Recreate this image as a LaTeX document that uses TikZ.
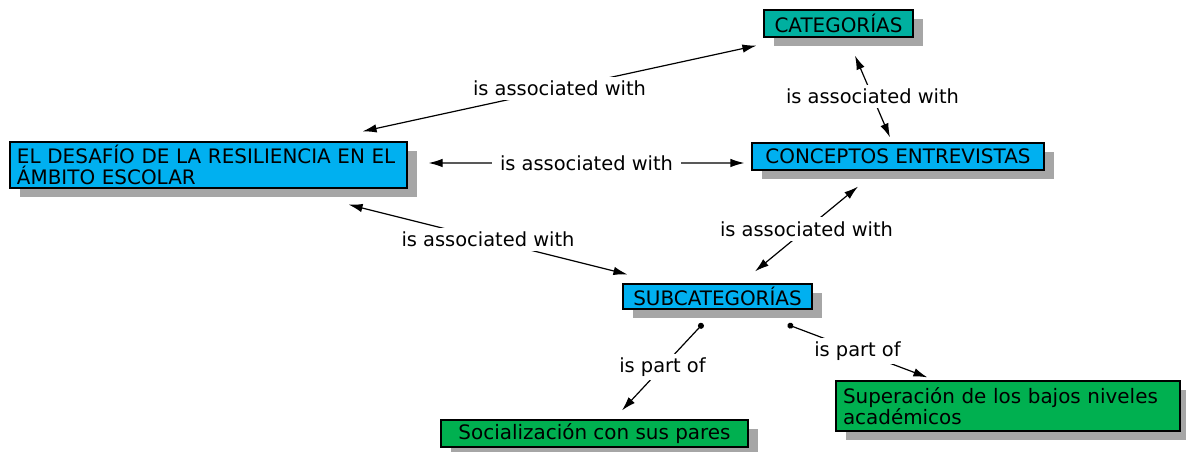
\documentclass[tikz,border=0pt]{standalone}
\usepackage{fontspec}
\setmainfont{DejaVu Sans}
\usetikzlibrary{arrows.meta,shadows}
\definecolor{boxblue}{RGB}{0,176,240}
\definecolor{boxteal}{RGB}{0,176,160}
\definecolor{boxgreen}{RGB}{0,176,80}
\definecolor{shadowgray}{RGB}{166,166,166}
\tikzset{
  concept/.style={draw=black,line width=1.2bp,inner xsep=7bp,inner ysep=1bp,
    font=\fontsize{20}{21}\selectfont,
    drop shadow={shadow xshift=10bp,shadow yshift=-9bp,fill=shadowgray,opacity=1}},
  linklabel/.style={fill=white,inner xsep=8bp,inner ysep=4bp,font=\fontsize{19.5}{21}\selectfont},
}
\begin{document}
\begin{tikzpicture}[x=1bp,y=-1bp,line width=1.2bp,>={Latex[length=14bp,width=8.5bp]}]
\useasboundingbox (0,0) rectangle (1186,452);
\node[concept,fill=boxteal,minimum width=149bp,minimum height=27bp] (cat) at (838.5,23.5) {CATEGORÍAS};
\node[concept,fill=boxblue,minimum width=292bp,minimum height=27bp] (conc) at (898,156.5) {CONCEPTOS ENTREVISTAS};
\node[concept,fill=boxblue,minimum height=46bp,text width=383bp,align=left] (desafio) at (208.5,165) {EL DESAFÍO DE LA RESILIENCIA EN EL\\ÁMBITO ESCOLAR};
\node[concept,fill=boxblue,minimum width=189bp,minimum height=25bp] (sub) at (717.5,296.5) {SUBCATEGORÍAS};
\node[concept,fill=boxgreen,minimum width=307bp,minimum height=27bp] (soc) at (594.5,433.5) {Socialización con sus pares};
\node[concept,fill=boxgreen,minimum height=50bp,text width=330bp,align=left] (sup) at (1008,406) {Superación de los bajos niveles\\académicos};
% links
\draw[<->] ([shift={(-45,-10)}]desafio.north east) -- node[linklabel] {is associated with} ([shift={(-7,8)}]cat.south west);
\draw[<->] ([shift={(21,-2)}]desafio.east) -- node[linklabel] {is associated with} ([shift={(-7,6.5)}]conc.west);
\draw[<->] ([shift={(16.5,18)}]cat.south) -- node[linklabel] {is associated with} ([shift={(-8,-5)}]conc.north);
\draw[<->] ([shift={(-59,16)}]desafio.south east) -- node[linklabel] {is associated with} ([shift={(5,-9)}]sub.north west);
\draw[<->] ([shift={(-40,16)}]conc.south) -- node[linklabel] {is associated with} ([shift={(37.5,-12)}]sub.north);
\draw[{Circle[length=6bp]}->] ([shift={(-14.5,14)}]sub.south) -- node[linklabel] {is part of} ([shift={(27.5,-9)}]soc.north);
\draw[{Circle[length=6bp]}->] ([shift={(-25,15)}]sub.south east) -- node[linklabel] {is part of} ([shift={(92,-3)}]sup.north west);
\end{tikzpicture}
\end{document}
